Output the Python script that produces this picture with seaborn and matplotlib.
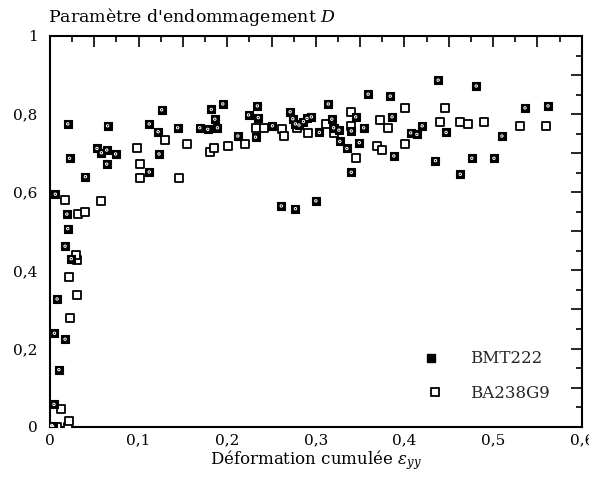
import matplotlib
matplotlib.use("Agg")
import matplotlib.pyplot as plt
import matplotlib.ticker as mticker
from matplotlib.lines import Line2D
from matplotlib.legend_handler import HandlerTuple
import pandas as pd
import seaborn as sns

# BMT222 series (filled squares)
bmt_x = [0.000, 0.002, 0.003, 0.0045, 0.010, 0.005, 0.017, 0.008, 0.024, 0.017,
         0.020, 0.019, 0.006, 0.020, 0.022, 0.040, 0.053, 0.058, 0.064, 0.064,
         0.065, 0.074, 0.112, 0.122, 0.126, 0.123, 0.112, 0.144, 0.169, 0.178,
         0.182, 0.186, 0.189, 0.195, 0.212, 0.224, 0.232, 0.234, 0.235, 0.251,
         0.261, 0.277, 0.300, 0.271, 0.274, 0.277, 0.281, 0.286, 0.290, 0.295,
         0.304, 0.314, 0.318, 0.320, 0.326, 0.327, 0.335, 0.340, 0.340, 0.345,
         0.349, 0.354, 0.359, 0.384, 0.386, 0.388, 0.407, 0.414, 0.420, 0.438,
         0.435, 0.447, 0.481, 0.463, 0.476, 0.501, 0.510, 0.536, 0.562]
bmt_y = [0.000, 0.003, 0.000, 0.057, 0.146, 0.239, 0.224, 0.327, 0.430, 0.462,
         0.507, 0.544, 0.595, 0.775, 0.687, 0.640, 0.712, 0.701, 0.708, 0.672,
         0.770, 0.698, 0.775, 0.755, 0.811, 0.698, 0.652, 0.765, 0.765, 0.761,
         0.812, 0.787, 0.765, 0.826, 0.744, 0.798, 0.741, 0.821, 0.791, 0.770,
         0.565, 0.558, 0.578, 0.806, 0.788, 0.775, 0.772, 0.781, 0.789, 0.793,
         0.753, 0.826, 0.787, 0.765, 0.759, 0.730, 0.712, 0.651, 0.757, 0.793,
         0.727, 0.765, 0.851, 0.846, 0.793, 0.693, 0.752, 0.748, 0.770, 0.887,
         0.681, 0.753, 0.872, 0.646, 0.687, 0.687, 0.744, 0.816, 0.821]

# BA238G9 series (open squares)
ba_x = [0.006, 0.0075, 0.020, 0.021, 0.012, 0.023, 0.030, 0.021, 0.031, 0.029,
        0.017, 0.032, 0.040, 0.058, 0.098, 0.102, 0.101, 0.130, 0.146, 0.155,
        0.180, 0.185, 0.201, 0.220, 0.233, 0.241, 0.262, 0.264, 0.279, 0.291,
        0.311, 0.320, 0.340, 0.340, 0.345, 0.369, 0.375, 0.372, 0.381, 0.401,
        0.401, 0.440, 0.446, 0.463, 0.472, 0.490, 0.530, 0.560]
ba_y = [0.000, 0.000, 0.000, 0.015, 0.046, 0.277, 0.337, 0.384, 0.426, 0.439,
        0.579, 0.544, 0.549, 0.578, 0.712, 0.672, 0.636, 0.734, 0.636, 0.724,
        0.704, 0.712, 0.719, 0.724, 0.764, 0.765, 0.761, 0.744, 0.765, 0.751,
        0.775, 0.752, 0.806, 0.770, 0.687, 0.718, 0.708, 0.785, 0.765, 0.815,
        0.724, 0.781, 0.815, 0.779, 0.775, 0.779, 0.770, 0.770]

bmt = pd.DataFrame({"x": bmt_x, "y": bmt_y})
ba = pd.DataFrame({"x": ba_x, "y": ba_y})

sns.set_theme(style="white")
plt.rcParams['font.family'] = ['DejaVu Serif']
plt.rcParams['mathtext.fontset'] = 'dejavuserif'

fig = plt.figure(figsize=(5.89, 4.86), dpi=100)
ax = fig.add_axes([0.0849, 0.122, 0.9027, 0.804])

sns.scatterplot(ax=ax, data=ba, x="x", y="y", marker="s", s=30,
                facecolor="white", edgecolor="black", linewidth=1.3, legend=False, zorder=3)
sns.scatterplot(ax=ax, data=bmt, x="x", y="y", marker="s", s=32,
                color="black", edgecolor="black", linewidth=0.8, legend=False, zorder=4)
sns.scatterplot(ax=ax, data=bmt, x="x", y="y", marker="o", s=3,
                facecolor="none", edgecolor="white", linewidth=0.7, legend=False, zorder=5)

ax.set_xlim(0, 0.6)
ax.set_ylim(0, 1)


def comma(v, pos):
    s = ("%.1f" % v).rstrip("0").rstrip(".")
    return s.replace(".", ",")


def comma_x(v, pos):
    if abs(round(v * 10) - v * 10) > 1e-6:
        return ""
    return comma(v, pos)


def comma_y(v, pos):
    if abs(round(v * 5) - v * 5) > 1e-6:
        return ""
    return comma(v, pos)


ax.xaxis.set_major_locator(mticker.MultipleLocator(0.05))
ax.xaxis.set_minor_locator(mticker.MultipleLocator(0.025))
ax.xaxis.set_major_formatter(mticker.FuncFormatter(comma_x))
ax.yaxis.set_major_locator(mticker.MultipleLocator(0.1))
ax.yaxis.set_minor_locator(mticker.MultipleLocator(0.05))
ax.yaxis.set_major_formatter(mticker.FuncFormatter(comma_y))

ax.tick_params(which="both", direction="in", top=True, right=True,
               color="black", width=1.2, labelsize=11, labelcolor="black")
ax.tick_params(which="major", length=8)
ax.tick_params(which="minor", length=4.5)
ax.tick_params(axis="y", which="major", pad=9)
ax.tick_params(axis="x", which="major", pad=5)

for sp in ax.spines.values():
    sp.set_color("black")
    sp.set_linewidth(1.5)

ax.set_ylabel("")
ax.set_xlabel(r"Déformation cumulée $\varepsilon_{yy}$", fontsize=12, labelpad=0,
              color="black")
fig.text(0.082, 1 - 22 / 486, r"Paramètre d'endommagement $D$", fontsize=12.5,
         ha="left", va="baseline", color="black")

handles = [
    (Line2D([], [], marker="s", ls="none", markersize=5.6, markerfacecolor="black",
            markeredgecolor="black"),
     Line2D([], [], marker="o", ls="none", markersize=2.2, markerfacecolor="none",
            markeredgecolor="white", markeredgewidth=0.7)),
    Line2D([], [], marker="s", ls="none", markersize=5.5, markerfacecolor="white",
           markeredgecolor="black", markeredgewidth=1.3),
]
ax.legend(handles, ["BMT222", "BA238G9"], loc="lower left",
          bbox_to_anchor=(0.68, 0.025), frameon=False, fontsize=12,
          handlelength=1.0, handletextpad=1.6, labelspacing=1.05,
          handler_map={tuple: HandlerTuple(ndivide=None, pad=0)})

fig.savefig("out.png", dpi=100)
